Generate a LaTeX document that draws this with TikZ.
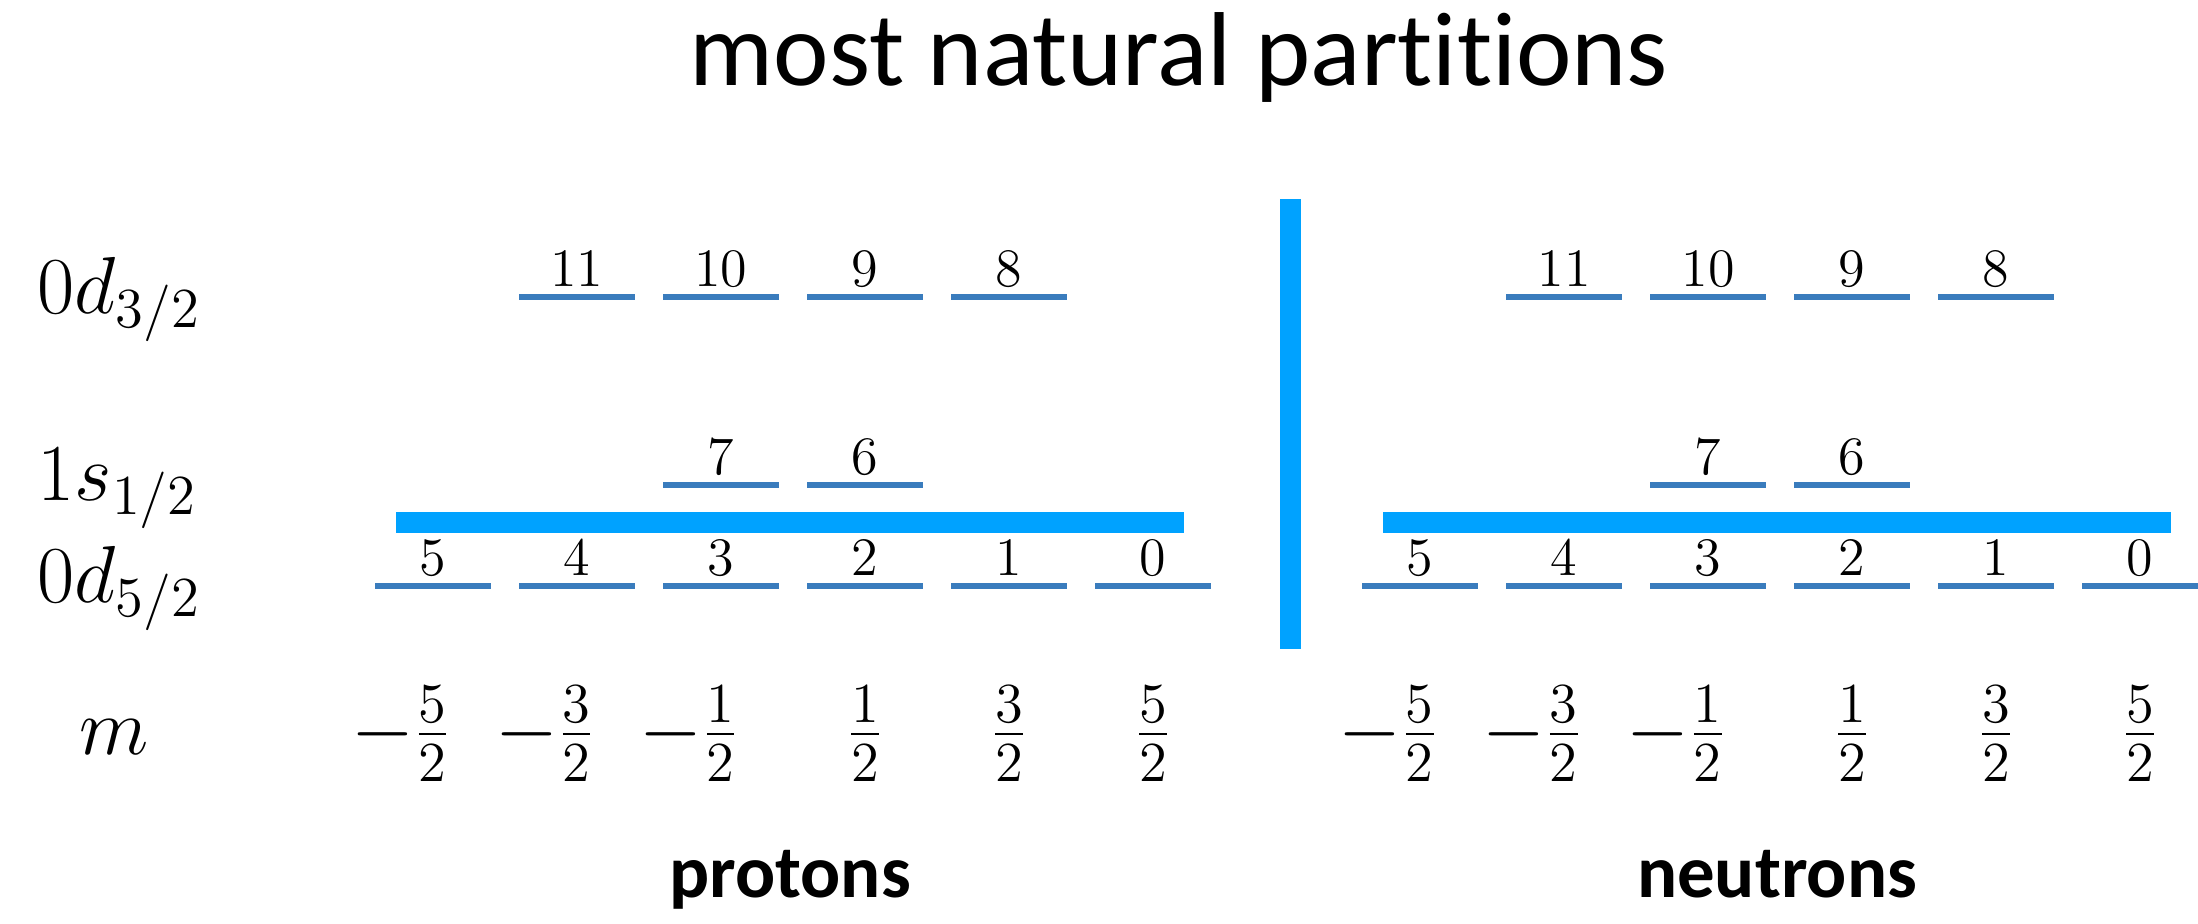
\RequirePackage{fix-cm}
\documentclass[tikz,border=0pt]{standalone}
\usepackage[no-math]{fontspec}
\setmainfont{Carlito}[Ligatures={NoCommon,NoContextual}]
\definecolor{levelblue}{HTML}{3A7CBD}
\definecolor{gapblue}{HTML}{00A2FF}

% one m-slot of a level: the short line and its number above it
\newcommand{\orbslot}[4]{%
  \draw[lvl] (#2-0.58,#3) -- (#2+0.58,#3);
  \node[num] (#1) at (#2,#3+0.11) {$#4$};%
}

% the sd-shell occupation scheme, drawn once for each kind of nucleon
\newcommand{\shellscheme}{%
  % 0d5/2, filled up to the gap
  \orbslot{d5a}{4.33}{-5.86}{5}
  \orbslot{d5b}{5.77}{-5.86}{4}
  \orbslot{d5c}{7.21}{-5.86}{3}
  \orbslot{d5d}{8.65}{-5.86}{2}
  \orbslot{d5e}{10.09}{-5.86}{1}
  \orbslot{d5f}{11.53}{-5.86}{0}
  % 1s1/2
  \orbslot{s1a}{7.21}{-4.85}{7}
  \orbslot{s1b}{8.65}{-4.85}{6}
  % 0d3/2
  \orbslot{d3a}{5.77}{-2.97}{11}
  \orbslot{d3b}{7.21}{-2.97}{10}
  \orbslot{d3c}{8.65}{-2.97}{9}
  \orbslot{d3d}{10.09}{-2.97}{8}
  % the partition line above 0d5/2
  \fill[gapblue] (3.96,-5.12) rectangle (11.84,-5.33);
  % m values (negative ones hang from the right edge of the fraction)
  \node[mval, anchor=base east] (m1) at (4.33+0.184,-7.54) {$-\frac{5}{2}$};
  \node[mval, anchor=base east] (m2) at (5.77+0.184,-7.54) {$-\frac{3}{2}$};
  \node[mval, anchor=base east] (m3) at (7.21+0.184,-7.54) {$-\frac{1}{2}$};
  \node[mval] (m4) at (8.65,-7.54) {$\frac{1}{2}$};
  \node[mval] (m5) at (10.09,-7.54) {$\frac{3}{2}$};
  \node[mval] (m6) at (11.53,-7.54) {$\frac{5}{2}$};
}

\begin{document}
\begin{tikzpicture}[
  x=1cm, y=1cm,
  lvl/.style={levelblue, line width=1.7pt},
  num/.style={anchor=base, inner sep=0pt, font=\fontsize{15.4}{18}\selectfont},
  mval/.style={anchor=base, inner sep=0pt, font=\fontsize{23}{27}\selectfont},
  orb/.style={anchor=base west, inner sep=0pt, font=\fontsize{23}{27}\selectfont},
  tag/.style={anchor=base, inner sep=0pt, font=\fontsize{21.3}{25}\selectfont\bfseries},
]
\useasboundingbox (0,0) rectangle (21.98,-9.23);

% ── title ──────────────────────────────────────────────────────────────
\node[anchor=base, inner sep=0pt, font=\fontsize{29.9}{34}\selectfont]
  (title) at (11.79,-0.85) {most natural partitions};

% ── orbit names and the m row ──────────────────────────────────────────
\node[orb] (d32) at (0.37,-3.13) {$0d_{3/2}$};
\node[orb] (s12) at (0.37,-5.00) {$1s_{1/2}$};
\node[orb] (d52) at (0.37,-6.02) {$0d_{5/2}$};
\node[mval] (mlab) at (1.14,-7.54) {$m$};

% ── protons on the left, neutrons on the right ─────────────────────────
\begin{scope}[name prefix=p-]
  \shellscheme
\end{scope}
\begin{scope}[xshift=9.87cm, name prefix=n-]
  \shellscheme
\end{scope}

% the wall between the two
\fill[gapblue] (12.80,-1.99) rectangle (13.01,-6.49);

\node[tag] (protons) at (7.90,-8.97) {protons};
\node[tag] (neutrons) at (17.77,-8.97) {neutrons};

\end{tikzpicture}
\end{document}
